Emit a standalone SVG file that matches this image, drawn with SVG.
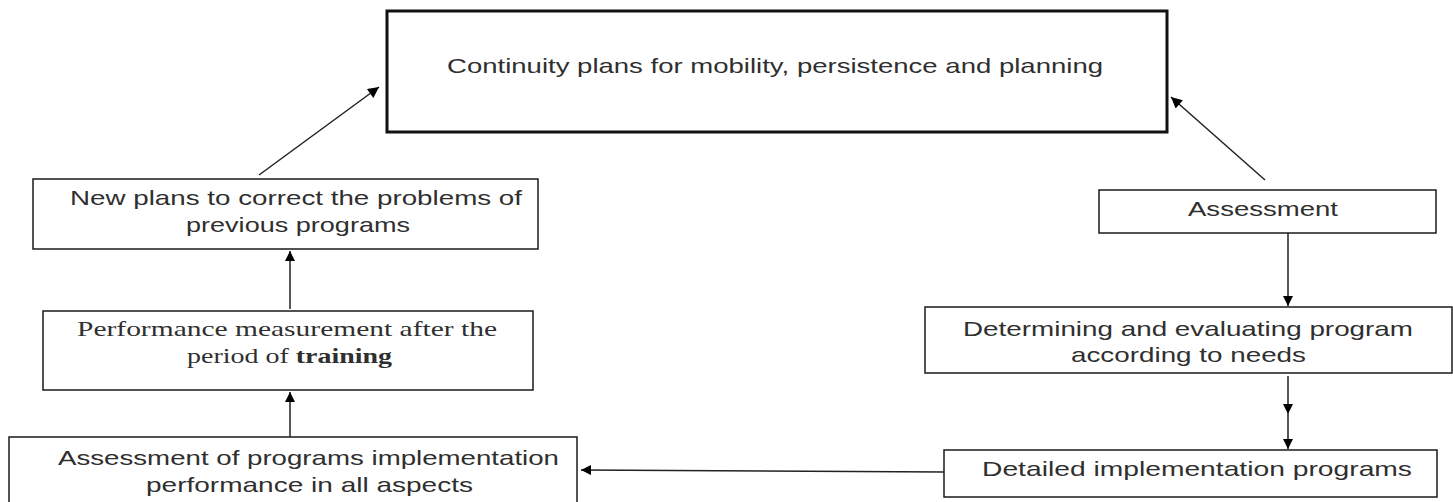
<svg xmlns="http://www.w3.org/2000/svg" width="1453" height="502" viewBox="0 0 1453 502">
<style>
.box{fill:#fff;stroke:#1a1a1a;stroke-width:1.5}
.thick{fill:#fff;stroke:#111;stroke-width:3}
.t{font-family:"Liberation Sans",Arial,sans-serif;font-size:21px;fill:#2f2f2f}
.s{font-family:"Liberation Serif","Times New Roman",serif;font-size:21px;fill:#2f2f2f}
.c{fill:none;stroke:#222;stroke-width:1.5}
</style>
<defs>
<marker id="ah" viewBox="0 0 10 10" refX="10" refY="5" markerWidth="11" markerHeight="10" markerUnits="userSpaceOnUse" orient="auto">
<path d="M0,0 L10,5 L0,10 z" fill="#000"/>
</marker>
<marker id="ahl" viewBox="0 0 10 10" refX="10" refY="5" markerWidth="13" markerHeight="11" markerUnits="userSpaceOnUse" orient="auto">
<path d="M0,0 L10,5 L0,10 z" fill="#000"/>
</marker>
</defs>
<g id="n-top">
<rect class="thick" x="387" y="11" width="780" height="121"/>
<text class="t" x="447" y="73" textLength="656" lengthAdjust="spacingAndGlyphs">Continuity plans for mobility, persistence and planning</text>
</g>
<g id="n-newplans">
<rect class="box" x="33" y="179" width="505" height="70"/>
<text class="t" x="70" y="205" textLength="452" lengthAdjust="spacingAndGlyphs">New plans to correct the problems of</text>
<text class="t" x="186" y="232" textLength="224" lengthAdjust="spacingAndGlyphs">previous programs</text>
</g>
<g id="n-perf">
<rect class="box" x="43" y="311" width="490" height="79"/>
<text class="s" x="77" y="336" textLength="420" lengthAdjust="spacingAndGlyphs">Performance measurement after the</text>
<text class="s" x="187" y="363" textLength="205" lengthAdjust="spacingAndGlyphs">period of <tspan font-weight="bold">training</tspan></text>
</g>
<g id="n-assessprog">
<rect class="box" x="9" y="437" width="568" height="70"/>
<text class="t" x="58" y="465" textLength="501" lengthAdjust="spacingAndGlyphs">Assessment of programs implementation</text>
<text class="t" x="146" y="492" textLength="327" lengthAdjust="spacingAndGlyphs">performance in all aspects</text>
</g>
<g id="n-assessment">
<rect class="box" x="1099" y="190" width="337" height="43"/>
<text class="t" x="1188" y="216" textLength="150" lengthAdjust="spacingAndGlyphs">Assessment</text>
</g>
<g id="n-determining">
<rect class="box" x="925" y="307" width="527" height="66"/>
<text class="t" x="963" y="336" textLength="450" lengthAdjust="spacingAndGlyphs">Determining and evaluating program</text>
<text class="t" x="1071" y="362" textLength="235" lengthAdjust="spacingAndGlyphs">according to needs</text>
</g>
<g id="n-detailed">
<rect class="box" x="944" y="450" width="493" height="47"/>
<text class="t" x="982" y="476" textLength="430" lengthAdjust="spacingAndGlyphs">Detailed implementation programs</text>
</g>
<g id="connectors">
<line class="c" x1="259" y1="175" x2="379" y2="87" marker-end="url(#ahl)"/>
<line class="c" x1="1265" y1="180" x2="1171" y2="97" marker-end="url(#ahl)"/>
<line class="c" x1="290" y1="309" x2="290" y2="251" marker-end="url(#ah)"/>
<line class="c" x1="290" y1="437" x2="290" y2="392" marker-end="url(#ah)"/>
<line class="c" x1="1288" y1="233" x2="1288" y2="306" marker-end="url(#ah)"/>
<path class="c" d="M1288 376 L1288 414 L1288 449" marker-mid="url(#ah)" marker-end="url(#ah)"/>
<line class="c" x1="944" y1="472" x2="581" y2="470" marker-end="url(#ah)"/>
</g>
</svg>
